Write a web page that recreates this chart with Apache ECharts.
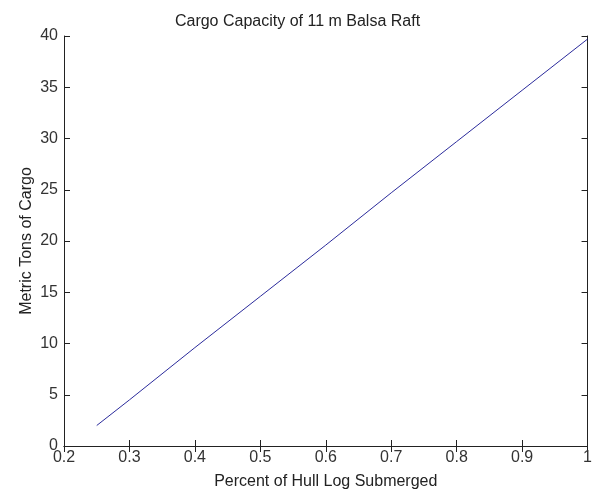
<!DOCTYPE html>
<html><head><meta charset="utf-8">
<script src="https://cdn.jsdelivr.net/npm/echarts@6/dist/echarts.min.js"></script>
<style>html,body{margin:0;padding:0;background:#fff}#c{width:595px;height:495px}</style>
</head><body><div id="c"></div>
<script>
const xValues = [0.25, 0.3, 0.4, 0.5, 0.6, 0.7, 0.8, 0.9, 1.0];
const cargoTons = [2.0, 4.5, 9.6, 14.6, 19.6, 24.7, 29.7, 34.7, 39.7];
const titleText = 'Cargo Capacity of 11 m Balsa Raft';
const xLabel = 'Percent of Hull Log Submerged';
const yLabel = 'Metric Tons of Cargo';

const font = 'Liberation Sans, Arial, sans-serif';
const axisLine = {show: true, lineStyle: {color: '#222', width: 1}};
const tick = {show: true, inside: true, length: 6, lineStyle: {color: '#222'}};
const chart = echarts.init(document.getElementById('c'));
chart.setOption({
  animation: false,
  backgroundColor: '#fff',
  title: {text: titleText, left: 'center', top: 9,
    textStyle: {fontFamily: font, fontSize: 16, fontWeight: 'normal', color: '#222'}},
  grid: {left: 64, right: 6, top: 36, bottom: 45},
  xAxis: [
    {type: 'value', min: 0.2, max: 1, interval: 0.1, position: 'bottom',
     name: xLabel, nameLocation: 'middle', nameGap: 28, nameMoveOverlap: false,
     nameTextStyle: {fontFamily: font, fontSize: 16, color: '#222'},
     axisLine, axisTick: tick, splitLine: {show: false},
     axisLabel: {fontFamily: font, fontSize: 16, color: '#333', margin: 4,
       formatter: v => (Math.abs(v - 1) < 1e-9 ? '1' : v.toFixed(1))}},
    {type: 'value', min: 0.2, max: 1, interval: 0.1, position: 'top',
     axisLine, axisTick: tick, splitLine: {show: false}, axisLabel: {show: false}}
  ],
  yAxis: [
    {type: 'value', min: 0, max: 40, interval: 5, position: 'left',
     name: yLabel, nameLocation: 'middle', nameGap: 29, nameMoveOverlap: false,
     nameTextStyle: {fontFamily: font, fontSize: 16, color: '#222'},
     axisLine, axisTick: tick, splitLine: {show: false},
     axisLabel: {fontFamily: font, fontSize: 16, color: '#333', margin: 6}},
    {type: 'value', min: 0, max: 40, interval: 5, position: 'right',
     axisLine, axisTick: tick, splitLine: {show: false}, axisLabel: {show: false}}
  ],
  series: [{
    type: 'line', xAxisIndex: 0, yAxisIndex: 0,
    data: xValues.map((x, i) => [x, cargoTons[i]]),
    showSymbol: false, symbol: 'none',
    lineStyle: {color: '#2b2b9c', width: 1}
  }]
});
</script></body></html>
